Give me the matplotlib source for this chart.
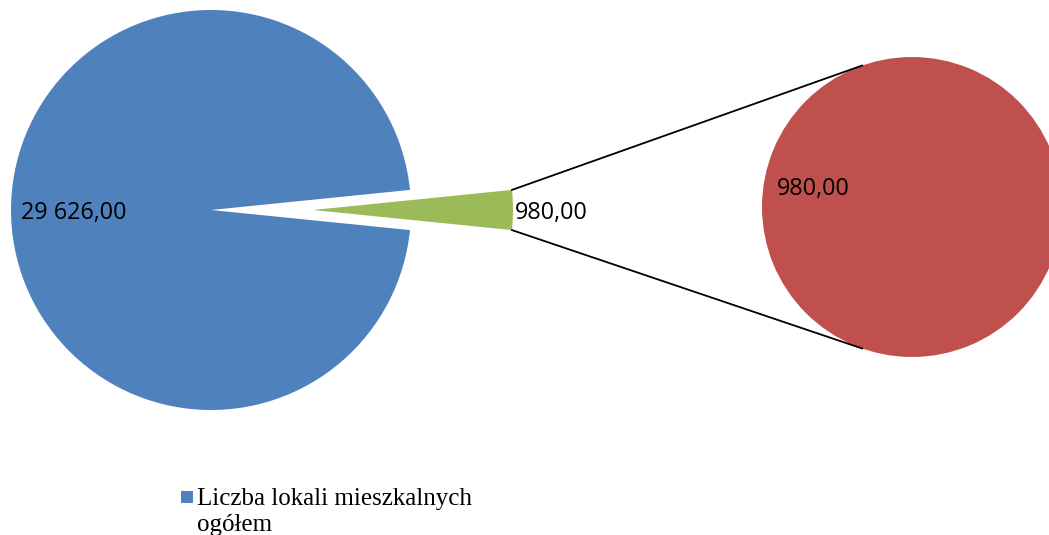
import numpy as np
import matplotlib
matplotlib.use("Agg")
import matplotlib.pyplot as plt
from matplotlib.patches import Rectangle

# Data
main_labels = ["Pozostałe", "Liczba lokali mieszkalnych ogółem"]
main_values = [980, 29626]          # green (split to secondary), blue
second_values = [980]               # red
legend_labels = ["Liczba lokali mieszkalnych\nogółem"]

def fmt(v):
    return f"{v:,.2f}".replace(",", " ").replace(".", ",")

colors_main = ["#9BBB59", "#4F81BD"]
color_second = "#C0504D"

W, H = 1049, 535
fig = plt.figure(figsize=(W / 100, H / 100), dpi=100)
ax = fig.add_axes([0, 0, 1, 1])

# Main pie
c1 = (211, H - 210)
r1 = 200
total = sum(main_values)
green_angle = main_values[0] / total * 360
start = -green_angle / 2
explode_d = 102   # matplotlib explode offset is in data units
ax.pie(main_values, colors=colors_main, startangle=start,
       counterclock=True, radius=r1, center=c1,
       explode=[explode_d, 0], frame=True,
       wedgeprops=dict(linewidth=0))

# Secondary pie
c2 = (912, H - 207)
r2 = 150
ax.pie(second_values, colors=[color_second], radius=r2, center=c2,
       startangle=90, frame=True, wedgeprops=dict(linewidth=0))

ax.set_xlim(0, W)
ax.set_ylim(0, H)
ax.set_aspect("equal")
ax.axis("off")

# Connector lines
gx = c1[0] + explode_d
gy = c1[1]
half = np.deg2rad(green_angle / 2)
top_g = (gx + r1 * np.cos(half), gy + r1 * np.sin(half))
bot_g = (gx + r1 * np.cos(half), gy - r1 * np.sin(half))
ang = np.deg2rad(109.4)
top_r = (c2[0] + r2 * np.cos(ang), c2[1] + r2 * np.sin(ang))
bot_r = (c2[0] + r2 * np.cos(ang), c2[1] - r2 * np.sin(ang))
ax.plot([top_g[0], top_r[0]], [top_g[1], top_r[1]], color="black", lw=1.3)
ax.plot([bot_g[0], bot_r[0]], [bot_g[1], bot_r[1]], color="black", lw=1.3)

# Labels
lab_font = dict(family=["Open Sans", "DejaVu Sans"], fontsize=16.8, color="black")
ax.text(c1[0] - 190, c1[1] - 3, fmt(main_values[1]), ha="left", va="center", **lab_font)
ax.text(top_g[0] + 3, gy - 3, fmt(main_values[0]), ha="left", va="center", **lab_font)
ax.text(c2[0] - 135, c2[1] + 18, fmt(second_values[0]), ha="left", va="center", **lab_font)

# Legend (drawn in figure pixel coordinates)
fig.patches.append(Rectangle((181 / W, 1 - 503 / H), 12 / W, 12 / H,
                             transform=fig.transFigure, facecolor=colors_main[1],
                             edgecolor="none"))
for i, line in enumerate(legend_labels[0].split("\n")):
    fig.text(197 / W, 1 - (505 + 26 * i) / H, line, ha="left", va="baseline",
             family="Liberation Serif", fontsize=18)

fig.savefig("out.png", dpi=100)
